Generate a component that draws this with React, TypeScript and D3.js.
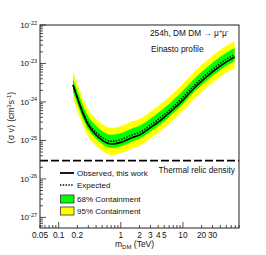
import React from 'react';
import * as d3 from 'd3';

// masses (TeV)
const mass = [0.17, 0.2, 0.25, 0.3, 0.4, 0.5, 0.7, 1, 1.5, 2, 3, 5, 7, 10, 15, 20, 30, 50, 68];
const observed = [2.75e-24, 1.26e-24, 4.68e-25, 2.51e-25, 1.38e-25, 1.02e-25, 8.1e-26, 8.9e-26, 1.17e-25, 1.38e-25, 2.14e-25, 3.98e-25, 6.46e-25, 1.12e-24, 2.24e-24, 3.47e-24, 6.03e-24, 1.1e-23, 1.48e-23];
const expected = [2.75e-24, 1.32e-24, 5.13e-25, 2.82e-25, 1.62e-25, 1.2e-25, 9.5e-26, 1.05e-25, 1.38e-25, 1.62e-25, 2.51e-25, 4.68e-25, 7.59e-25, 1.32e-24, 2.63e-24, 4.07e-24, 7.08e-24, 1.29e-23, 1.7e-23];
const green68Low = [1.86e-24, 8.9e-25, 3.47e-25, 1.91e-25, 1.1e-25, 8.1e-26, 6.4e-26, 7.1e-26, 9.3e-26, 1.1e-25, 1.7e-25, 3.16e-25, 5.13e-25, 8.9e-25, 1.78e-24, 2.75e-24, 4.79e-24, 8.7e-24, 1.15e-23];
const green68High = [4.07e-24, 1.95e-24, 7.59e-25, 4.17e-25, 2.4e-25, 1.77e-25, 1.41e-25, 1.55e-25, 2.04e-25, 2.4e-25, 3.71e-25, 6.92e-25, 1.12e-24, 1.95e-24, 3.89e-24, 6.02e-24, 1.05e-23, 1.91e-23, 2.51e-23];
const yellow95Low = [1.23e-24, 5.9e-25, 2.29e-25, 1.26e-25, 7.2e-26, 5.4e-26, 4.2e-26, 4.7e-26, 6.2e-26, 7.2e-26, 1.12e-25, 2.09e-25, 3.39e-25, 5.9e-25, 1.18e-24, 1.82e-24, 3.16e-24, 5.8e-24, 7.6e-24];
const yellow95High = [6.2e-24, 2.96e-24, 1.15e-24, 6.3e-25, 3.63e-25, 2.69e-25, 2.13e-25, 2.35e-25, 3.09e-25, 3.63e-25, 5.6e-25, 1.05e-24, 1.7e-24, 2.96e-24, 5.9e-24, 9.1e-24, 1.59e-23, 2.89e-23, 3.8e-23];

const thermalRelic = 3e-26;
const xTickLabels = [0.05, 0.1, 0.2, 1, 2, 3, 4, 5, 10, 20, 30];
const yDecades = [-27, -26, -25, -24, -23, -22];

const W = 266;
const H = 255;
const font = 'Liberation Sans, Arial, Helvetica, sans-serif';

export default function App() {
  const left = 40, right = 239, top = 25, bottom = 228;
  const x = d3.scaleLog().domain([0.05, 80]).range([left, right]);
  const y = d3.scaleLog().domain([5.3e-28, 1e-22]).range([bottom, top]);

  const band = (lo: number[], hi: number[]) =>
    d3.area<number>()
      .x((_, i) => x(mass[i]))
      .y0((_, i) => y(lo[i]))
      .y1((_, i) => y(hi[i]))
      .curve(d3.curveMonotoneX)(mass) || '';
  const line = (vals: number[]) =>
    d3.line<number>()
      .x((_, i) => x(mass[i]))
      .y((_, i) => y(vals[i]))
      .curve(d3.curveMonotoneX)(mass) || '';

  // minor ticks on x
  const xTicks: { v: number; major: boolean }[] = [];
  for (let e = -2; e <= 1; e++) {
    for (let k = 1; k <= 9; k++) {
      const v = k * Math.pow(10, e);
      if (v >= 0.05 - 1e-9 && v <= 80 + 1e-9) xTicks.push({ v, major: k === 1 });
    }
  }
  const yTicks: { v: number; major: boolean }[] = [];
  for (let e = -28; e <= -23; e++) {
    for (let k = 1; k <= 9; k++) {
      const v = k * Math.pow(10, e);
      if (v >= 5.3e-28 && v <= 1e-22 * 1.0001) yTicks.push({ v, major: k === 1 });
    }
  }
  yTicks.push({ v: 1e-22, major: true });

  const fmtX = (v: number) => (v < 1 ? String(v) : String(v));

  return (
    <svg width={W} height={H} style={{ position: 'absolute', left: 0, top: 0, background: '#fff' }} fontFamily={font}>
      <rect x={0} y={0} width={W} height={H} fill="#fff" />
      <clipPath id="plotclip">
        <rect x={left} y={top} width={right - left} height={bottom - top} />
      </clipPath>
      <g clipPath="url(#plotclip)">
        <path d={band(yellow95Low, yellow95High)} fill="#ffff00" />
        <path d={band(green68Low, green68High)} fill="#00ff00" />
        <path d={line(observed)} fill="none" stroke="#000" strokeWidth={1.6} />
        <path d={line(expected)} fill="none" stroke="#000" strokeWidth={1.4} strokeDasharray="1.4 1.4" />
        <line x1={left} x2={right} y1={y(thermalRelic)} y2={y(thermalRelic)} stroke="#000" strokeWidth={1.8} strokeDasharray="8 3" />
      </g>

      {/* frame */}
      <rect x={left} y={top} width={right - left} height={bottom - top} fill="none" stroke="#222" strokeWidth={1} />

      {/* x ticks */}
      {xTicks.map((t, i) => (
        <line key={'xt' + i} x1={x(t.v)} x2={x(t.v)} y1={bottom} y2={bottom - (t.major ? 6 : 3)} stroke="#222" strokeWidth={0.8} />
      ))}
      {xTickLabels.map((v) => (
        <text key={'xl' + v} x={x(v)} y={bottom + 10} fontSize={8.3} textAnchor="middle" fill="#111">{fmtX(v)}</text>
      ))}

      {/* y ticks */}
      {yTicks.map((t, i) => (
        <line key={'yt' + i} x1={left} x2={left + (t.major ? 6 : 3)} y1={y(t.v)} y2={y(t.v)} stroke="#222" strokeWidth={0.8} />
      ))}
      {yDecades.map((e) => (
        <text key={'yl' + e} x={left - 3} y={y(Math.pow(10, e)) + 3} fontSize={8} textAnchor="end" fill="#111">
          10<tspan dy={-3.5} fontSize={5.5}>{e}</tspan>
        </text>
      ))}

      {/* axis titles */}
      <text transform={`translate(14,118) rotate(-90)`} fontSize={8.5} textAnchor="middle" fill="#111">
        ⟨σ v⟩ (cm<tspan dy={-3} fontSize={6}>3</tspan><tspan dy={3}>s</tspan><tspan dy={-3} fontSize={6}>-1</tspan><tspan dy={3}>)</tspan>
      </text>
      <text x={115} y={247} fontSize={8.5} fill="#111">
        m<tspan dy={2} fontSize={6}>DM</tspan><tspan dy={-2}> (TeV)</tspan>
      </text>

      {/* annotations */}
      <text x={150} y={36} fontSize={8.3} fill="#111">
        254h, DM DM → μ<tspan dy={-3} fontSize={5.5}>+</tspan><tspan dy={3}>μ</tspan><tspan dy={-3} fontSize={5.5}>-</tspan>
      </text>
      <text x={151} y={52} fontSize={8.3} fill="#111">Einasto profile</text>
      <text x={235} y={173} fontSize={8.3} textAnchor="end" fill="#111">Thermal relic density</text>

      {/* legend */}
      <line x1={60} x2={74} y1={173} y2={173} stroke="#000" strokeWidth={1.8} />
      <text x={77} y={176} fontSize={8} fill="#111">Observed, this work</text>
      <line x1={60} x2={74} y1={185} y2={185} stroke="#000" strokeWidth={1.4} strokeDasharray="1.4 1.4" />
      <text x={77} y={188} fontSize={8} fill="#111">Expected</text>
      <rect x={60.5} y={195} width={13.5} height={8} fill="#00ff00" stroke="#333" strokeWidth={0.8} />
      <text x={77} y={202} fontSize={8} fill="#111">68% Containment</text>
      <rect x={60.5} y={207} width={13.5} height={8} fill="#ffff00" stroke="#333" strokeWidth={0.8} />
      <text x={77} y={214} fontSize={8} fill="#111">95% Containment</text>
    </svg>
  );
}
